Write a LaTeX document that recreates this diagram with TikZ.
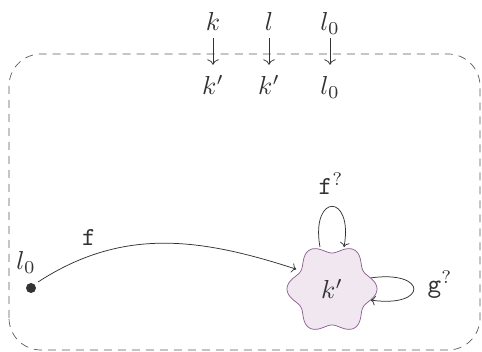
\documentclass[tikz,border=0pt]{standalone}
\usetikzlibrary{shapes.geometric,arrows.meta}
\definecolor{ink}{HTML}{333333}
\definecolor{lavfill}{HTML}{F0E7F1}
\definecolor{lavdraw}{HTML}{8A5A8C}
\newcommand\bigtxt[1]{\scalebox{2.6}{#1}}
\begin{document}
\begin{tikzpicture}[x=1pt,y=1pt,
  every node/.style={text=ink},
  lbl/.style={inner sep=1pt,anchor=base,text height=18pt,text depth=6pt},
  arr/.style={-{To[scale=1.4]},draw=ink,line width=0.75pt},
  frame/.style={draw=ink!80,line width=0.7pt,dash pattern=on 8pt off 6pt,rounded corners=32},
  state/.style={ellipse,minimum width=80,minimum height=88,inner sep=0pt,outer sep=0pt}]
\useasboundingbox (0,0) rectangle (482,352);
\draw[frame] (9,2) rectangle (480,298);
% top renaming
\node[lbl] (a1) at (213,321) {\bigtxt{$k$}};
\node[lbl] (b1) at (213,257) {\bigtxt{$k'$}};
\node[lbl] (a2) at (269,321) {\bigtxt{$l$}};
\node[lbl] (b2) at (269,257) {\bigtxt{$k'$}};
\node[lbl] (a3) at (330,321) {\bigtxt{$l_0$}};
\node[lbl] (b3) at (330,257) {\bigtxt{$l_0$}};
\draw[arr,-{To[scale=1.7]},shorten >=11pt] (a1.south) -- (b1.north);
\draw[arr,-{To[scale=1.7]},shorten >=11pt] (a2.south) -- (b2.north);
\draw[arr,-{To[scale=1.7]},shorten >=11pt] (a3.south) -- (b3.north);
% state k'
\draw[draw=lavdraw,fill=lavfill,line width=0.7pt]
  plot[domain=0:360,samples=240,smooth] ({332+(40.5-4.5*cos(6*\x-540))*cos(\x)},{63+(40.5-4.5*cos(6*\x-540))*sin(\x)}) -- cycle;
\node[state] (k) at (332,63) {\bigtxt{$k'$}};
% initial location
\fill[ink] (31,64) circle (5);
\coordinate (l0) at (31,64);
\node[anchor=base] (l0lbl) at (26,82) {\bigtxt{$l_0$}};
\coordinate (l0s) at (38,70);
\draw[arr] (l0s) to[out=33,in=162] (k.151);
\node[anchor=base] (flbl) at (89,106) {\bigtxt{$\mathtt{f}$}};
% self loops
\draw[arr] (k.106) to[out=100,in=80,distance=55] (k.74);
\node[anchor=base] (fq) at (331,157) {\bigtxt{$\mathtt{f}^?$}};
\draw[arr] (k.16) to[out=8,in=-8,distance=58] (k.-16);
\node[anchor=base] (gq) at (440,59) {\bigtxt{$\mathtt{g}^?$}};
\end{tikzpicture}
\end{document}
